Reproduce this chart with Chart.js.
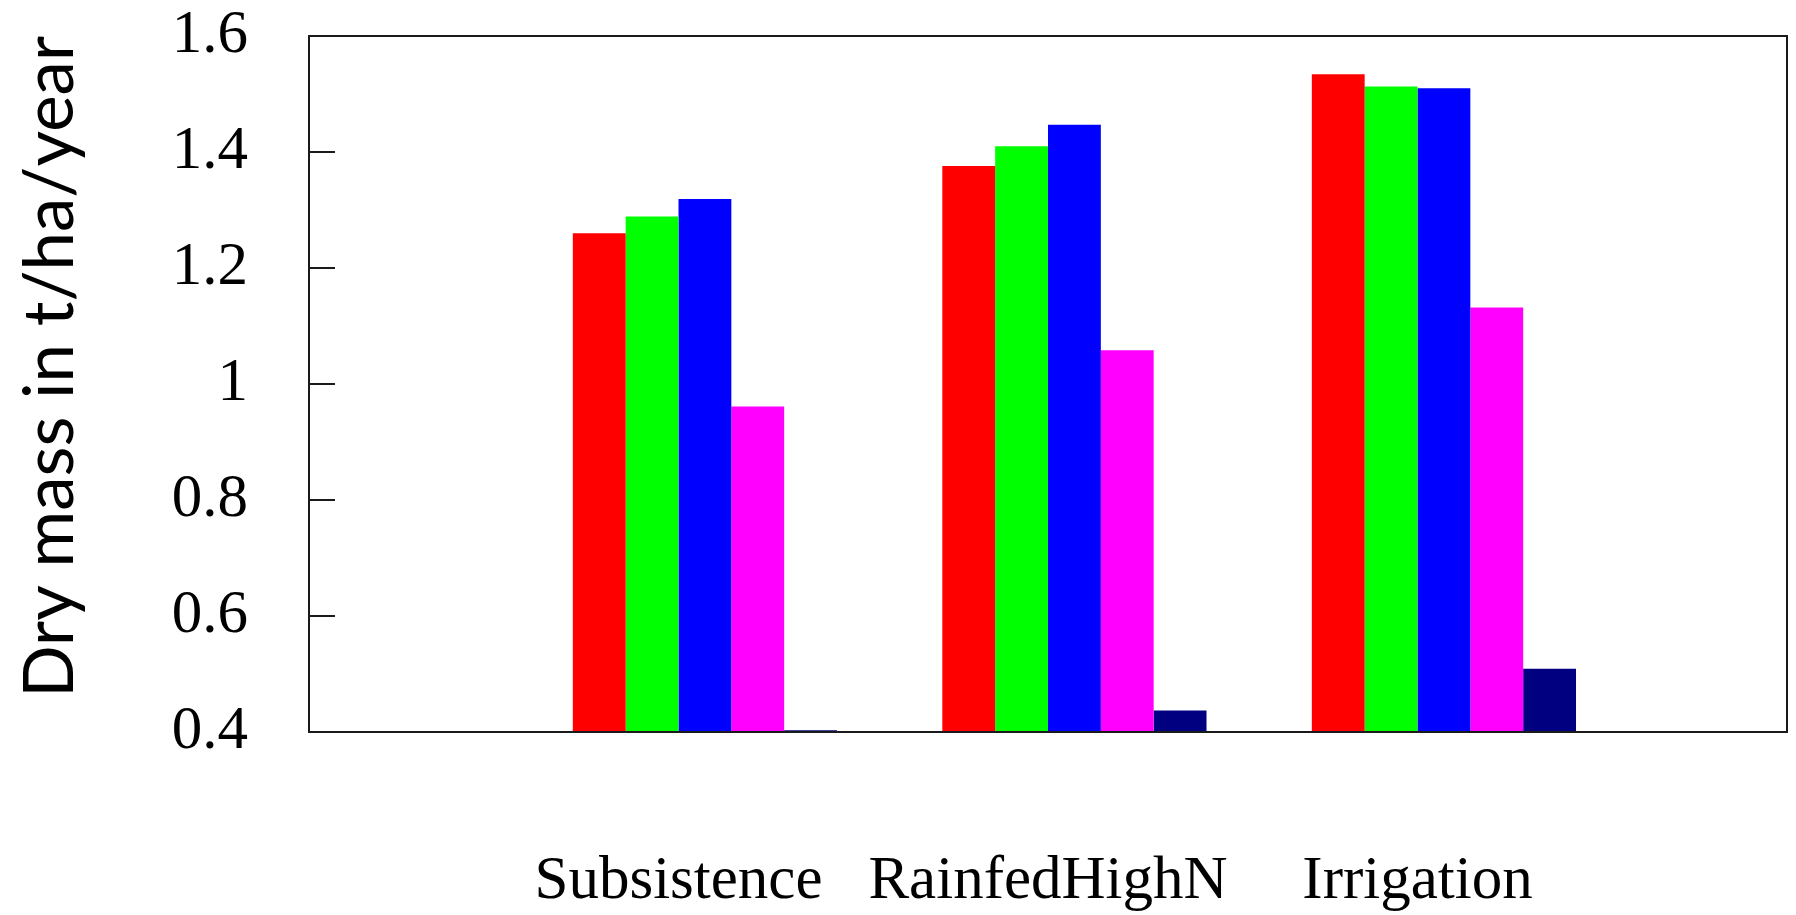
<!DOCTYPE html>
<html>
<head>
<meta charset="utf-8">
<script src="https://cdn.jsdelivr.net/npm/chart.js@4.4.1/dist/chart.umd.min.js"></script>
<style>
    html, body { margin: 0; padding: 0; background: #fff; }
    canvas { display: block; }
</style>
</head>
<body>
<canvas id="chart" width="1796" height="915"></canvas>
<script>
// data
const groups = ['Subsistence', 'RainfedHighN', 'Irrigation'];
const redValues = [1.260, 1.376, 1.534];
const greenValues = [1.289, 1.410, 1.513];
const blueValues = [1.319, 1.447, 1.510];
const magentaValues = [0.961, 1.058, 1.132];
const navyValues = [0.403, 0.437, 0.509];
const yTicks = [0.4, 0.6, 0.8, 1, 1.2, 1.4, 1.6];

// axis runs from an empty slot before the first group to one after the last
const labels = ['', ...groups, ''];
const pad = values => [null, ...values, null];

// inward tick marks on the left side and the closed frame
const frame = {
    id: 'frame',
    afterDatasetsDraw(chart) {
        const { ctx, chartArea: a, scales } = chart;
        ctx.save();
        ctx.strokeStyle = '#1a1a1a';
        ctx.lineWidth = 2;
        ctx.strokeRect(a.left, a.top, a.right - a.left, a.bottom - a.top);
        yTicks.forEach(v => {
            const y = Math.round(scales.y.getPixelForValue(v));
            ctx.beginPath();
            ctx.moveTo(a.left, y);
            ctx.lineTo(a.left + 26, y);
            ctx.stroke();
        });
        ctx.restore();
    }
};

const bar = (data, color) => ({
    data: pad(data),
    backgroundColor: color,
    borderWidth: 0,
    barPercentage: 1,
    categoryPercentage: 0.858
});

new Chart(document.getElementById('chart'), {
    type: 'bar',
    data: {
        labels: labels,
        datasets: [
            // first slot of each group stays empty (below the axis)
            bar([null, null, null], 'rgba(0,0,0,0)'),
            bar(redValues, '#ff0000'),
            bar(greenValues, '#00ff00'),
            bar(blueValues, '#0000ff'),
            bar(magentaValues, '#ff00ff'),
            bar(navyValues, '#000080')
        ]
    },
    options: {
        responsive: false,
        animation: false,
        devicePixelRatio: 1,
        layout: { padding: { top: 36, right: 9, left: 0, bottom: 0 } },
        plugins: {
            legend: { display: false },
            tooltip: { enabled: false }
        },
        scales: {
            x: {
                offset: false,
                grid: { display: false, drawTicks: false },
                border: { display: false },
                ticks: {
                    color: '#000',
                    padding: 113,
                    maxRotation: 0,
                    autoSkip: false,
                    font: { family: '"Liberation Serif", "Times New Roman", serif', size: 61 }
                },
                afterFit(scale) {
                    scale.height = 183;
                    scale.paddingLeft = 0;
                    scale.paddingRight = 0;
                }
            },
            y: {
                min: 0.4,
                max: 1.6,
                afterBuildTicks(scale) { scale.ticks = yTicks.map(v => ({ value: v })); },
                grid: { display: false, drawTicks: false },
                border: { display: false },
                ticks: {
                    color: '#000',
                    padding: 61,
                    callback: v => String(+v.toFixed(1)),
                    font: { family: '"Liberation Serif", "Times New Roman", serif', size: 61 }
                },
                title: {
                    display: true,
                    text: 'Dry mass in t/ha/year',
                    align: 'end',
                    color: '#000',
                    padding: { top: 9, bottom: 0 },
                    font: { family: 'Lato, "Open Sans", sans-serif', size: 69, weight: 'normal' }
                },
                afterFit(scale) {
                    scale.width = 309;
                    scale.paddingTop = 0;
                    scale.paddingBottom = 0;
                }
            }
        }
    },
    plugins: [frame]
});
</script>
</body>
</html>
